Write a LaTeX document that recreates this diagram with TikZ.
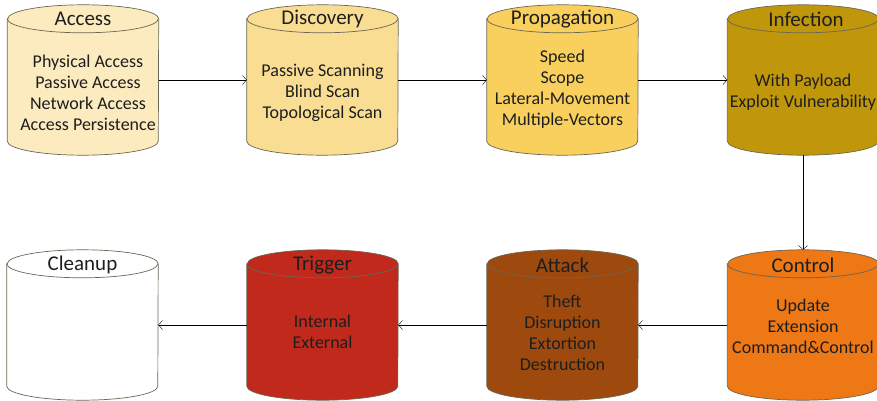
\documentclass[tikz,border=0pt]{standalone}
\usepackage{fontspec}
\setmainfont{Carlito}
\usepackage{tikz}
\usetikzlibrary{arrows.meta}
\definecolor{accessfill}{HTML}{FCEBBE}
\definecolor{discfill}{HTML}{F9DD92}
\definecolor{propfill}{HTML}{F9D05E}
\definecolor{inffill}{HTML}{C0970B}
\definecolor{ctlfill}{HTML}{EE7716}
\definecolor{atkfill}{HTML}{9E4A0E}
\definecolor{trigfill}{HTML}{C0291C}
\definecolor{rim}{HTML}{6B6654}
\definecolor{ink}{HTML}{1E1E1E}

\tikzset{
  stage/.style={rectangle, minimum width=151pt, minimum height=150pt, inner sep=0pt},
  drumline/.style={draw=rim, line width=0.7pt},
  lid/.style={x radius=75.5pt, y radius=14pt},
  stagetitle/.style={font=\fontsize{21}{21}\selectfont, text=ink},
  stageitems/.style={font=\fontsize{18}{21}\selectfont, align=center, text=ink}
}

\begin{document}
\begin{tikzpicture}[x=1pt, y=-1pt, >={Straight Barb[length=4pt,width=9pt]}]
\useasboundingbox (0,0) rectangle (877,401);

%stage bodies, first row left to right, second row right to left
\node[stage] (acc) at (83,80) {};
\node[stage] (disc) at (322.5,80) {};
\node[stage] (prop) at (562.5,80) {};
\node[stage] (inf) at (803,80) {};
\node[stage] (ctl) at (803,325) {};
\node[stage] (atk) at (562.5,325) {};
\node[stage] (trig) at (322.5,325) {};
\node[stage] (clean) at (82.5,325) {};

%cylinders
\foreach \n/\c in {acc/accessfill, disc/discfill, prop/propfill, inf/inffill,
                   ctl/ctlfill, atk/atkfill, trig/trigfill, clean/white} {
  \filldraw[drumline, fill=\c] ([yshift=-14pt]\n.north west)
    -- ([yshift=14pt]\n.south west) arc[start angle=180, end angle=360, lid]
    -- ([yshift=-14pt]\n.north east) arc[start angle=0, end angle=180, lid] -- cycle;
  \draw[drumline] ([yshift=-14pt]\n.north west) arc[start angle=180, end angle=360, lid];
}

%labels
\node[stagetitle] (acc-t) at (83,19) {Access};
\node[stageitems] (acc-i) at (88,93) {Physical Access\\Passive Access\\Network Access\\Access Persistence};

\node[stagetitle] (disc-t) at (322.5,19) {Discovery};
\node[stageitems] (disc-i) at (322.5,93) {Passive Scanning\\Blind Scan\\Topological Scan};

\node[stagetitle] (prop-t) at (562.5,19) {Propagation};
\node[stageitems] (prop-i) at (562.5,89) {Speed\\Scope\\Lateral-Movement\\Multiple-Vectors};

\node[stagetitle] (inf-t) at (806,19) {Infection};
\node[stageitems] (inf-i) at (803,92) {With Payload\\Exploit Vulnerability};

\node[stagetitle] (ctl-t) at (803,265) {Control};
\node[stageitems] (ctl-i) at (803,326) {Update\\Extension\\Command\&Control};

\node[stagetitle] (atk-t) at (562.5,265) {Attack};
\node[stageitems] (atk-i) at (562.5,333) {Theft\\Disruption\\Extortion\\Destruction};

\node[stagetitle] (trig-t) at (322.5,265) {Trigger};
\node[stageitems] (trig-i) at (322.5,332) {Internal\\External};

\node[stagetitle] (clean-t) at (82.5,265) {Cleanup};

%flow between stages
\draw[->] (acc) -- (disc);
\draw[->] (disc) -- (prop);
\draw[->] (prop) -- (inf);
\draw[->] (inf) -- (ctl);
\draw[->] (ctl) -- (atk);
\draw[->] (atk) -- (trig);
\draw[->] (trig) -- (clean);

\end{tikzpicture}
\end{document}
